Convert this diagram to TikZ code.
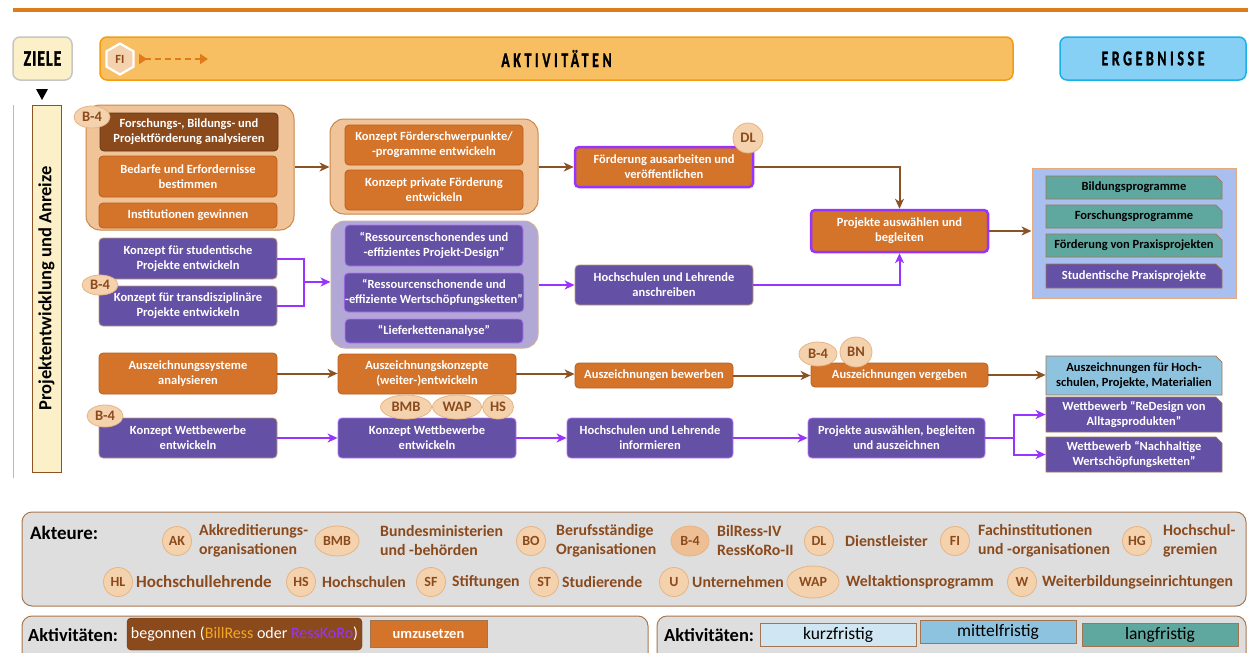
\documentclass[tikz,border=0pt]{standalone}
\usepackage{fontspec}
\usepackage{graphicx}
\setmainfont{Carlito}
\newfontfamily\hdfontA[LetterSpace=6,FakeBold=1.5]{Carlito}
\newfontfamily\hdfontB[LetterSpace=26,FakeBold=1.5]{Carlito}
\usetikzlibrary{shapes.geometric,shapes.misc,arrows.meta,calc}
\definecolor{orgbox}{HTML}{D4732A}
\definecolor{orgbd}{HTML}{B8601E}
\definecolor{brnbox}{HTML}{8B4A1C}
\definecolor{purbox}{HTML}{6450A4}
\definecolor{peach}{HTML}{F0C498}
\definecolor{peachbd}{HTML}{C8884A}
\definecolor{lav}{HTML}{B2A8D6}
\definecolor{brline}{HTML}{8B5224}
\definecolor{vio}{HTML}{9933FF}
\definecolor{badgef}{HTML}{F5D2AE}
\definecolor{badgebd}{HTML}{E6B482}
\definecolor{badget}{HTML}{8B4A1C}
\definecolor{tealc}{HTML}{5FA8A0}
\definecolor{ltblue}{HTML}{8EC3E0}
\definecolor{paleblue}{HTML}{D0E6F2}
\definecolor{resbg}{HTML}{A9BFF0}
\definecolor{legbg}{HTML}{DEDEDE}
\definecolor{legbd}{HTML}{A87850}
\definecolor{cream}{HTML}{FCF0C8}
\definecolor{hdorange}{HTML}{F8BE62}
\definecolor{hdorbd}{HTML}{F39C12}
\definecolor{hdblue}{HTML}{86D0F5}
\definecolor{hdbluebd}{HTML}{1AB0E8}
\definecolor{topline}{HTML}{E07B1A}
\definecolor{bilor}{HTML}{F5A623}
\newcommand\bxf{\fontsize{12.5}{15}\selectfont\bfseries}
\newcommand\hdA[1]{\scalebox{0.72}[1]{\hdfontA\bfseries\fontsize{22}{22}\selectfont #1}}
\newcommand\hdB[1]{\scalebox{0.66}[1]{\hdfontB\bfseries\fontsize{21}{21}\selectfont #1}}
\begin{document}
\begin{tikzpicture}[x=1pt,y=-1pt,
 box/.style={rectangle, rounded corners=4, inner sep=1, align=center, text=white, font=\bxf, line width=0.8},
 ob/.style={box, fill=orgbox, draw=orgbd},
 db/.style={box, fill=brnbox, draw=brnbox!70!black},
 pb/.style={box, fill=purbox, draw=brline!60},
 vb/.style={box, fill=purbox, draw=vio!70},
 hb/.style={box, fill=orgbox, draw=vio, line width=2.5},
 frame/.style={rectangle, rounded corners=14, line width=1},
 res/.style={chamfered rectangle, chamfered rectangle corners=north east, chamfered rectangle xsep=3, inner sep=1, align=center, font=\bxf, line width=0.8, draw=brline!80},
 badge/.style={ellipse, fill=badgef, draw=badgebd, line width=0.8, text=badget, font=\fontsize{14.5}{14.5}\selectfont\bfseries, inner sep=0},
 lbadge/.style={badge, font=\fontsize{14}{14}\selectfont\bfseries},
 legt/.style={font=\fontsize{15.8}{19}\selectfont\bfseries, text=badget, align=left, anchor=west, inner sep=0},
 barr/.style={draw=brline, line width=2, -{Stealth[length=10,width=9,inset=3]}},
 parr/.style={draw=vio, line width=2, -{Stealth[length=10,width=9,inset=3]}},
 pline/.style={draw=vio, line width=2},
 hdbox/.style={rectangle, rounded corners=7, line width=1.5, inner sep=0},
 legbox/.style={rectangle, rounded corners=10, fill=legbg, draw=legbd, line width=1},
 lgi/.style={rectangle, inner sep=0, draw=brline!80, line width=0.8, font=\fontsize{17.5}{17.5}\selectfont}
]
\useasboundingbox (0,0) rectangle (1248,653);
% top line and header
\draw[topline, line width=4] (13,10) -- (1248,10);
\node[hdbox, fill=cream, draw=gray!45, minimum width=59, minimum height=43] (ziele) at (42.5,58.5) {\hdA{ZIELE}};
\node[hdbox, fill=hdorange, draw=hdorbd, minimum width=913, minimum height=43] (akt) at (556.5,58.5) {\hdB{AKTIVITÄTEN}};
\node[hdbox, fill=hdblue, draw=hdbluebd, minimum width=186, minimum height=43] (erg) at (1153,58.5) {\hdB{ERGEBNISSE}};
\node[regular polygon, regular polygon sides=6, shape border rotate=30, minimum size=31, fill=badgef, draw=white, line width=2.2, text=badget, font=\fontsize{12.5}{12.5}\selectfont\bfseries, inner sep=0] (fi) at (120,59) {FI};
\coordinate (fa) at (139,59);
\coordinate (fb) at (208,59);
\draw[topline, line width=2, dash pattern=on 6pt off 4pt, {Triangle[reversed,length=8,width=10]}-{Triangle[length=8,width=10]}] (fa) -- (fb);
\fill (36,89) -- (48,89) -- (42,100) -- cycle;
% left side
\draw[gray!55, line width=1] (13,105) -- (13,478);
\node[rectangle, rotate=90, minimum width=367, minimum height=29, inner sep=0, fill=cream, draw=brline, line width=1, font=\fontsize{18.5}{18.5}\selectfont\bfseries] (lab) at (46.5,288.5) {Projektentwicklung und Anreize};
% group 1
\node[frame, fill=peach, draw=peachbd, minimum width=208, minimum height=125] (g1) at (190,167.5) {};
\node[db, minimum width=178, minimum height=38] (n1) at (189,132) {Forschungs-, Bildungs- und\\Projektförderung analysieren};
\node[ob, minimum width=178, minimum height=41] (n2) at (188,176.5) {Bedarfe und Erfordernisse\\bestimmen};
\node[ob, minimum width=178, minimum height=25] (n3) at (188,215.5) {Institutionen gewinnen};
% group 2
\node[frame, fill=peach, draw=peachbd, minimum width=208, minimum height=95] (g2) at (434,166.5) {};
\node[ob, minimum width=178, minimum height=40] (n4) at (434,145) {Konzept Förderschwerpunkte/\\-programme entwickeln};
\node[ob, minimum width=178, minimum height=40] (n5) at (434,190) {Konzept private Förderung\\entwickeln};
\draw[barr] (g1.east |- 0,167) -- (g2.west |- 0,167);
\node[hb, minimum width=178, minimum height=40] (n6) at (664,167) {Förderung ausarbeiten und\\veröffentlichen};
\draw[barr] (g2.east |- n6.west) -- (n6.west);
\node[hb, minimum width=177, minimum height=42] (n7) at (899.5,231) {Projekte auswählen und\\begleiten};
\draw[barr] (n6.east) -| (n7.north);
% row 2
\node[pb, minimum width=178, minimum height=41] (n9) at (188,258.5) {Konzept für studentische\\Projekte entwickeln};
\node[pb, minimum width=178, minimum height=40] (n10) at (188,306) {Konzept für transdisziplinäre\\Projekte entwickeln};
\node[frame, fill=lav, draw=brline!45, minimum width=207, minimum height=127] (g3) at (434.5,284.5) {};
\node[vb, minimum width=178, minimum height=41] (n11) at (434,245.5) {“Ressourcenschonendes und\\-effizientes Projekt-Design”};
\node[vb, minimum width=178, minimum height=39] (n12) at (434,292.5) {“Ressourcenschonende und\\-effiziente Wertschöpfungsketten”};
\node[vb, minimum width=178, minimum height=24] (n13) at (434,331) {“Lieferkettenanalyse”};
\coordinate (jn) at (304,282);
\draw[pline] (n9.east) -| (jn) |- (n10.east);
\draw[parr] (jn) -- (jn -| g3.west);
\node[pb, minimum width=178, minimum height=40] (n8) at (664,285) {Hochschulen und Lehrende\\anschreiben};
\draw[parr] (g3.east |- n8.west) -- (n8.west);
\draw[parr] (n8.east) -| (n7.south);
% results
\node[rectangle, fill=resbg, draw=orgbox!60, line width=1, minimum width=204, minimum height=130] (r0) at (1134,233) {};
\node[res, fill=tealc, minimum width=176, minimum height=23] (r1) at (1134,187.5) {Bildungsprogramme};
\node[res, fill=tealc, minimum width=176, minimum height=23] (r2) at (1134,216.5) {Forschungsprogramme};
\node[res, fill=tealc, minimum width=176, minimum height=23] (r3) at (1134,245.5) {Förderung von Praxisprojekten};
\node[res, fill=purbox, text=white, minimum width=176, minimum height=24] (r4) at (1134,276) {Studentische Praxisprojekte};
\draw[barr] (n7.east) -- (n7.east -| r0.west);
% row 3
\node[ob, minimum width=178, minimum height=41] (n14) at (188,373.5) {Auszeichnungssysteme\\analysieren};
\node[ob, minimum width=178, minimum height=40] (n15) at (427,374) {Auszeichnungskonzepte\\(weiter-)entwickeln};
\node[ob, minimum width=158, minimum height=25] (n16) at (654,375.5) {Auszeichnungen bewerben};
\node[ob, minimum width=177, minimum height=24] (n17) at (899.5,375) {Auszeichnungen vergeben};
\node[res, fill=ltblue, minimum width=176, minimum height=39] (r5) at (1134,375.5) {Auszeichnungen für Hoch-\\schulen, Projekte, Materialien};
\draw[barr] (n14.east) -- (n14.east -| n15.west);
\draw[barr] (n15.east) -- (n15.east -| n16.west);
\draw[barr] (n16.east) -- (n16.east -| n17.west);
\draw[barr] (n17.east) -- (n17.east -| r5.west);
% row 4
\node[pb, minimum width=178, minimum height=40] (n18) at (188,438) {Konzept Wettbewerbe\\entwickeln};
\node[vb, minimum width=178, minimum height=40] (n19) at (427,438) {Konzept Wettbewerbe\\entwickeln};
\node[vb, minimum width=166, minimum height=40] (n20) at (650,438) {Hochschulen und Lehrende\\informieren};
\node[vb, minimum width=177, minimum height=40] (n21) at (896.5,438) {Projekte auswählen, begleiten\\und auszeichnen};
\node[res, fill=purbox, text=white, minimum width=176, minimum height=35] (r6) at (1134,414.5) {Wettbewerb “ReDesign von\\Alltagsprodukten”};
\node[res, fill=purbox, text=white, minimum width=176, minimum height=35] (r7) at (1134,454.5) {Wettbewerb “Nachhaltige\\Wertschöpfungsketten”};
\draw[parr] (n18.east) -- (n19.west);
\draw[parr] (n19.east) -- (n20.west);
\draw[parr] (n20.east) -- (n21.west);
\coordinate (br) at (1014,438);
\draw[pline] (n21.east) -- (br);
\draw[parr] (br) |- (r6.west);
\draw[parr] (br) |- (r7.west);
% badges
\node[badge, minimum width=36, minimum height=22] (b1) at (92,117) {B-4};
\node[badge, minimum width=36, minimum height=20] (b2) at (100,285) {B-4};
\node[badge, minimum width=36, minimum height=22] (b3) at (105,416) {B-4};
\node[badge, minimum width=30, minimum height=30] (dl) at (748,138) {DL};
\node[badge, minimum width=38, minimum height=24] (b4) at (818,354) {B-4};
\node[badge, minimum width=32, minimum height=30] (bn) at (856,352) {BN};
\node[badge, minimum width=51, minimum height=24] (bmb) at (406,407) {BMB};
\node[badge, minimum width=49, minimum height=24] (wap) at (457,407) {WAP};
\node[badge, minimum width=31, minimum height=24] (hs) at (498,407) {HS};
% legend Akteure
\node[legbox, minimum width=1224, minimum height=94] (leg1) at (634,559) {};
\node[anchor=west, inner sep=0, font=\fontsize{19}{19}\selectfont\bfseries] (akt1) at (30,533) {Akteure:};
\node[lbadge, minimum size=29] (lak) at (177,541) {AK};
\node[legt] (tak) at (199,541) {Akkreditierungs-\\organisationen};
\node[lbadge, minimum width=44, minimum height=30] (lbmb) at (337,541) {BMB};
\node[legt] (tbmb) at (380,541) {Bundesministerien\\und -behörden};
\node[lbadge, minimum size=29] (lbo) at (531,541) {BO};
\node[legt] (tbo) at (556,541) {Berufsständige\\Organisationen};
\node[lbadge, minimum width=38, minimum height=30, fill=badgef!80!orgbox] (lb4) at (690,541) {B-4};
\node[legt] (tb4) at (717,541) {BilRess-IV\\RessKoRo-II};
\node[lbadge, minimum size=29] (ldl) at (819,541) {DL};
\node[legt] (tdl) at (845,541) {Dienstleister};
\node[lbadge, minimum size=29] (lfi) at (955,541) {FI};
\node[legt] (tfi) at (978,541) {Fachinstitutionen\\und -organisationen};
\node[lbadge, minimum size=29] (lhg) at (1137,541) {HG};
\node[legt] (thg) at (1163,541) {Hochschul-\\gremien};
\node[lbadge, minimum size=29] (lhl) at (118,582) {HL};
\node[legt, font=\fontsize{17}{19}\selectfont\bfseries] (thl) at (136,582) {Hochschullehrende};
\node[lbadge, minimum size=29] (lhs) at (301,582) {HS};
\node[legt] (ths) at (322,582) {Hochschulen};
\node[lbadge, minimum size=29] (lsf) at (431,582) {SF};
\node[legt] (tsf) at (452,582) {Stiftungen};
\node[lbadge, minimum size=29] (lst) at (544,582) {ST};
\node[legt] (tst) at (562,582) {Studierende};
\node[lbadge, minimum size=29] (lu) at (674,582) {U};
\node[legt] (tu) at (692,582) {Unternehmen};
\node[lbadge, minimum width=52, minimum height=32] (lwap) at (813,582) {WAP};
\node[legt] (twap) at (846,582) {Weltaktionsprogramm};
\node[lbadge, minimum size=29] (lw) at (1022,582) {W};
\node[legt] (tw) at (1042,582) {Weiterbildungseinrichtungen};
% legend Aktivitaeten 1
\node[legbox, minimum width=626, minimum height=48] (leg2) at (335,640) {};
\node[anchor=west, inner sep=0, font=\fontsize{18.5}{18.5}\selectfont] (la1) at (28,635) {\bfseries Aktivitäten:};
\node[rectangle, rounded corners=4, fill=brnbox, draw=brnbox!70!black, minimum width=235, minimum height=32, inner sep=0, text=white, font=\fontsize{16}{16}\selectfont] (beg) at (244.5,634) {begonnen (\textcolor{bilor}{BillRess} oder \textcolor{vio}{RessKoRo})};
\node[lgi, fill=orgbox, text=white, minimum width=117, minimum height=27, font=\fontsize{14.5}{14.5}\selectfont\bfseries] (umz) at (428.5,633.5) {umzusetzen};
% legend Aktivitaeten 2
\node[legbox, minimum width=589, minimum height=48] (leg3) at (951.5,640) {};
\node[anchor=west, inner sep=0, font=\fontsize{18.5}{18.5}\selectfont] (la2) at (664,635) {\bfseries Aktivitäten:};
\node[lgi, fill=paleblue, minimum width=156, minimum height=23] (kf) at (838,634.5) {kurzfristig};
\node[lgi, fill=ltblue, minimum width=156, minimum height=23] (mf) at (998,632) {mittelfristig};
\node[lgi, fill=tealc, minimum width=156, minimum height=23] (lf) at (1160,634.5) {langfristig};
\end{tikzpicture}
\end{document}
